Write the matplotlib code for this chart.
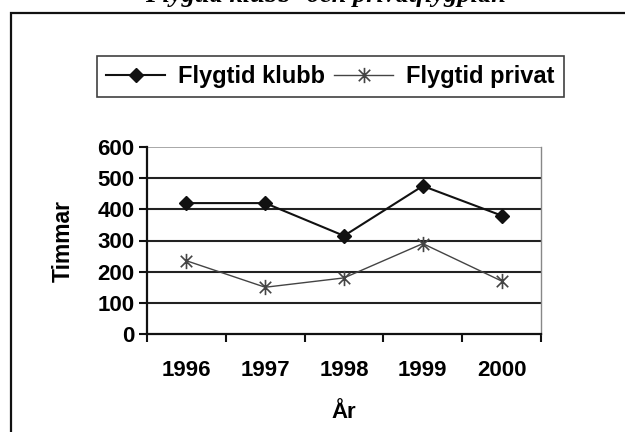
import matplotlib.pyplot as plt
import matplotlib.patches as patches
from matplotlib.path import Path

# values
years = ['1996', '1997', '1998', '1999', '2000']
klubb = [420, 420, 315, 475, 380]
privat = [235, 150, 180, 290, 170]
yticks = [0, 100, 200, 300, 400, 500, 600]

plt.rcParams['font.family'] = ['Liberation Sans', 'DejaVu Sans']
plt.rcParams['font.weight'] = 'bold'

fig = plt.figure(figsize=(6.25, 4.32), dpi=100)
ax = fig.add_axes([147 / 625, 1 - 334 / 432, 394 / 625, 187 / 432])

# asterisk marker like the old Excel one: vertical bar plus an x
star = Path([(0, -1), (0, 1), (-0.75, -0.75), (0.75, 0.75), (-0.75, 0.75), (0.75, -0.75)],
            [Path.MOVETO, Path.LINETO, Path.MOVETO, Path.LINETO, Path.MOVETO, Path.LINETO])

x = list(range(len(years)))
ax.plot(x, klubb, color='#111111', lw=1.5, marker='D', markersize=7,
        label='Flygtid klubb', zorder=3)
ax.plot(x, privat, color='#444444', lw=1.0, marker=star, markersize=11,
        markeredgewidth=1.2, label='Flygtid privat', zorder=3)

ax.set_xlim(-0.5, len(years) - 0.5)
ax.set_ylim(0, 600)

# gridlines
for v in yticks[1:-1]:
    ax.axhline(v, color='#222222', lw=1.5, zorder=1)
ax.axhline(600, color='#999999', lw=1.2, zorder=1)

ax.set_yticks(yticks)
ax.set_yticklabels([str(v) for v in yticks], fontsize=16, fontweight='bold')
ax.set_xticks([i - 0.5 for i in range(len(years) + 1)])
ax.set_xticklabels([])
ax.set_xticks(x, minor=True)
ax.set_xticklabels(years, minor=True, fontsize=16, fontweight='bold')
ax.tick_params(axis='x', which='minor', length=0, pad=19)
ax.tick_params(axis='x', which='major', length=6, width=1.5, color='#111111')
ax.tick_params(axis='y', length=6, width=1.5, color='#111111', pad=3)

for s in ['left', 'bottom']:
    ax.spines[s].set_linewidth(1.6)
    ax.spines[s].set_color('#111111')
ax.spines['right'].set_color('#888888')
ax.spines['right'].set_linewidth(1.0)
ax.spines['top'].set_visible(False)

ax.set_ylabel('Timmar', fontsize=16.5, fontweight='bold', labelpad=16)
ax.set_xlabel('År', fontsize=16, fontweight='bold', labelpad=15)

leg = fig.legend(loc='center', bbox_to_anchor=(97 / 625, 1 - 101 / 432, 467 / 625, 49 / 432),
                 mode='expand', ncol=2, fontsize=17, frameon=True, fancybox=False,
                 handlelength=2.5, handletextpad=0.55, columnspacing=0.5,
                 borderaxespad=0, borderpad=0.4)
leg.get_frame().set_edgecolor('#111111')
leg.get_frame().set_linewidth(1.2)
for t in leg.get_texts():
    t.set_fontweight('bold')

# outer chart frame, runs off the right and bottom of the scan
fig.patches.append(patches.Rectangle((11 / 625, -0.05), 1.0, 1 - 13 / 432 + 0.05,
                                     transform=fig.transFigure, fill=False,
                                     edgecolor='#111111', lw=1.6))

# title cut off at the top of the scan
fig.text(0.52, 1 - 2 / 432, 'Flygtid klubb- och privatflygplan', ha='center', va='baseline',
         fontsize=19, fontstyle='italic', fontweight='bold',
         family=['Liberation Serif', 'DejaVu Serif'])

fig.savefig('out.png', dpi=100)
